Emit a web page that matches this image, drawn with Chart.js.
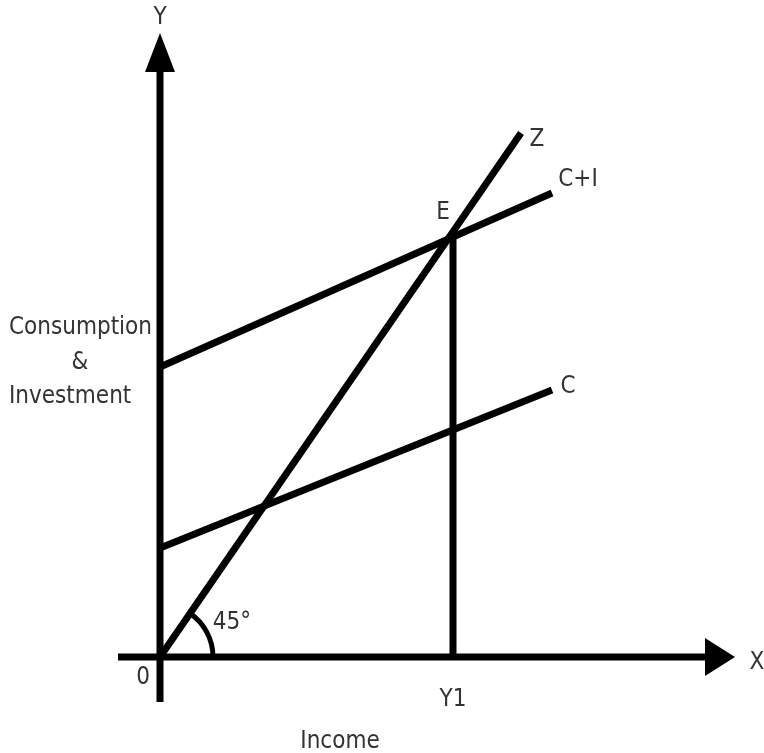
<!DOCTYPE html>
<html>
<head>
<meta charset="utf-8">
<script src="https://cdn.jsdelivr.net/npm/chart.js@4"></script>
<style>
  body { margin: 0; background: #fff; }
  #wrap { width: 764px; height: 753px; }
</style>
</head>
<body>
<div id="wrap"><canvas id="myChart" width="764" height="753"></canvas></div>
<script>
// schedule lines (income on x, spending on y)
const lineNames = ['Z', 'C+I', 'C'];
const lineStartX = [0, 0, 0];
const lineStartY = [0, 290, 109];
const lineEndX = [361, 392, 392];
const lineEndY = [524, 464, 267];

// equilibrium point E and income Y1
const equilibriumIncome = 293;
const equilibriumSpending = 422;

// axis extents (tail, arrow base, arrow tip)
const xAxisExtent = [-42, 545, 575];
const yAxisExtent = [-45, 585, 624];

const textColor = '#333';
const fontFamily = '"DejaVu Sans Condensed", "DejaVu Sans", sans-serif';
const lineW = 7;

// text labels: [text, x, y, align]
const labels = [
  ['Y', 0, 639, 'center'],
  ['X', 597, -6, 'center'],
  ['Z', 377, 517, 'center'],
  ['C+I', 418, 477, 'center'],
  ['E', 283, 444, 'center'],
  ['C', 408, 270, 'center'],
  ['0', -17, -21, 'center'],
  ['45°', 72, 34, 'center'],
  ['Y1', 293, -43, 'center'],
  ['Income', 180, -85, 'center'],
  ['Consumption', -151, 329, 'left'],
  ['&', -80, 294, 'center'],
  ['Investment', -151, 260, 'left']
];

let datasets = lineNames.map((name, i) => ({
  label: name,
  data: [{x: lineStartX[i], y: lineStartY[i]}, {x: lineEndX[i], y: lineEndY[i]}],
  showLine: true,
  borderColor: '#000',
  borderWidth: lineW,
  pointRadius: 0
}));

datasets.push({
  label: 'Y1',
  data: [{x: equilibriumIncome, y: 0}, {x: equilibriumIncome, y: equilibriumSpending}],
  showLine: true, borderColor: '#000', borderWidth: lineW, pointRadius: 0
});
datasets.push({
  label: 'x axis',
  data: [{x: xAxisExtent[0], y: 0}, {x: xAxisExtent[1], y: 0}],
  showLine: true, borderColor: '#000', borderWidth: lineW, pointRadius: 0
});
datasets.push({
  label: 'y axis',
  data: [{x: 0, y: yAxisExtent[0]}, {x: 0, y: yAxisExtent[1]}],
  showLine: true, borderColor: '#000', borderWidth: lineW, pointRadius: 0
});

const diagramExtras = {
  id: 'diagramExtras',
  afterDatasetsDraw(chart) {
    const ctx = chart.ctx;
    const xs = chart.scales.x, ys = chart.scales.y;
    const px = v => xs.getPixelForValue(v);
    const py = v => ys.getPixelForValue(v);
    ctx.save();
    ctx.fillStyle = '#000';
    // x arrow head
    ctx.beginPath();
    ctx.moveTo(px(xAxisExtent[2]), py(0));
    ctx.lineTo(px(xAxisExtent[1]), py(0) - 19);
    ctx.lineTo(px(xAxisExtent[1]), py(0) + 19);
    ctx.closePath();
    ctx.fill();
    // y arrow head
    ctx.beginPath();
    ctx.moveTo(px(0), py(yAxisExtent[2]));
    ctx.lineTo(px(0) - 15, py(yAxisExtent[1]));
    ctx.lineTo(px(0) + 15, py(yAxisExtent[1]));
    ctx.closePath();
    ctx.fill();
    // 45 degree arc
    const ang = Math.atan2(py(0) - py(lineEndY[0]), px(lineEndX[0]) - px(0));
    ctx.strokeStyle = '#000';
    ctx.lineWidth = 5;
    ctx.beginPath();
    ctx.arc(px(0), py(0), 53, -ang, 0);
    ctx.stroke();
    // labels
    ctx.fillStyle = textColor;
    ctx.font = '24px ' + fontFamily;
    ctx.textBaseline = 'middle';
    labels.forEach(l => {
      ctx.textAlign = l[3];
      ctx.fillText(l[0], px(l[1]), py(l[2]));
    });
    ctx.restore();
  }
};

let diagram = new Chart(document.getElementById('myChart').getContext('2d'), {
  type: 'scatter',
  data: { datasets: datasets },
  options: {
    responsive: false,
    animation: false,
    layout: { padding: 0 },
    plugins: {
      legend: { display: false },
      tooltip: { enabled: false }
    },
    scales: {
      x: { type: 'linear', min: -160, max: 604, display: false },
      y: { type: 'linear', min: -96, max: 657, display: false }
    }
  },
  plugins: [diagramExtras]
});
</script>
</body>
</html>
